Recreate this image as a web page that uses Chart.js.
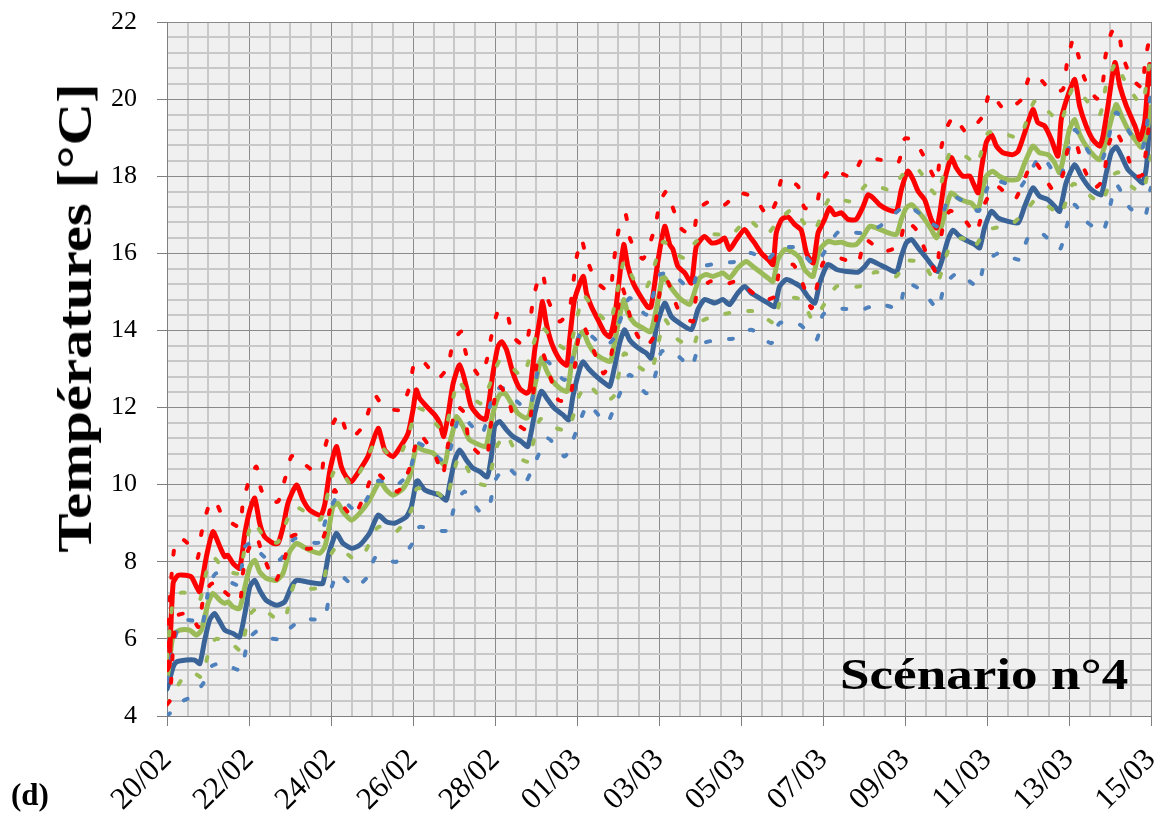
<!DOCTYPE html>
<html><head><meta charset="utf-8">
<script src="https://cdn.jsdelivr.net/npm/chart.js@4.4.1/dist/chart.umd.min.js"></script>
<style>
html,body{margin:0;padding:0;background:#fff;}
#wrap{position:relative;width:1163px;height:814px;overflow:hidden;}
#c{position:absolute;left:0;top:0;}
.lbl{position:absolute;font-family:"Liberation Serif","Times New Roman",serif;font-weight:bold;color:#000;white-space:nowrap;line-height:1;}
#ytitle{left:75px;top:318px;font-size:48px;transform:translate(-50%,-50%) rotate(-90deg) scaleX(1.225);}
#scen{left:840px;top:652px;font-size:45px;transform-origin:0 0;transform:scaleX(1.18);}
#sub{left:11px;top:779px;font-size:31px;}
</style></head><body>
<div id="wrap"><canvas id="c" width="1163" height="814"></canvas>
<div id="ytitle" class="lbl">Températures [°C]</div>
<div id="scen" class="lbl">Scénario n°4</div>
<div id="sub" class="lbl">(d)</div>
</div>
<script>
// x = days since 20/02 00:00, y = temperature (°C)
const dateLabels = ['20/02','22/02','24/02','26/02','28/02','01/03','03/03','05/03','07/03','09/03','11/03','13/03','15/03'];

const redMid = [[0,5.2],[0.05,5.3],[0.15,7.45],[0.27,7.65],[0.45,7.65],[0.6,7.6],[0.72,7.35],[0.8,7.22],[0.96,8.13],[1.12,8.78],[1.29,8.39],[1.41,8.13],[1.48,8.17],[1.61,7.96],[1.77,7.83],[1.9,8.74],[2.02,9.34],[2.14,9.65],[2.26,9.0],[2.38,8.65],[2.59,8.48],[2.71,8.48],[2.83,8.9],[2.95,9.52],[3.16,9.99],[3.32,9.6],[3.48,9.34],[3.75,9.21],[3.85,9.5],[3.97,10.35],[4.13,10.99],[4.25,10.47],[4.37,10.2],[4.5,10.08],[4.7,10.38],[4.9,10.73],[5.15,11.46],[5.31,10.9],[5.51,10.73],[5.72,11.03],[5.88,11.33],[6.0,11.94],[6.08,12.46],[6.16,12.24],[6.33,12.03],[6.53,11.81],[6.65,11.6],[6.75,11.25],[6.85,11.77],[6.98,12.63],[7.14,13.11],[7.3,12.55],[7.42,12.03],[7.63,11.75],[7.78,11.7],[7.95,12.89],[8.07,13.58],[8.16,13.71],[8.28,13.5],[8.44,12.89],[8.6,12.5],[8.77,12.37],[8.85,12.46],[8.97,13.5],[9.09,14.28],[9.16,14.75],[9.25,14.19],[9.38,13.67],[9.58,13.24],[9.75,13.1],[9.82,13.76],[9.94,14.8],[10.15,15.4],[10.23,14.97],[10.35,14.62],[10.51,14.28],[10.68,13.93],[10.8,13.84],[10.92,14.36],[11.04,15.4],[11.14,16.23],[11.24,15.66],[11.37,15.23],[11.53,14.92],[11.73,14.6],[11.8,14.6],[11.85,14.88],[11.98,15.84],[12.14,16.7],[12.26,16.23],[12.34,16.1],[12.46,15.66],[12.63,15.49],[12.79,15.23],[12.91,16.18],[13.11,16.44],[13.28,16.27],[13.48,16.31],[13.6,16.4],[13.72,16.1],[13.89,16.36],[14.09,16.62],[14.21,16.44],[14.33,16.27],[14.5,16.0],[14.66,15.84],[14.78,15.71],[14.86,16.53],[14.99,16.88],[15.15,16.94],[15.31,16.75],[15.47,16.6],[15.6,16.0],[15.76,15.75],[15.88,16.53],[16.04,16.88],[16.16,17.18],[16.29,17.0],[16.45,17.05],[16.61,16.88],[16.81,16.88],[16.98,17.22],[17.1,17.52],[17.22,17.44],[17.38,17.26],[17.59,17.13],[17.79,17.09],[17.91,17.65],[18.07,18.13],[18.2,17.91],[18.32,17.61],[18.48,17.39],[18.64,16.88],[18.77,16.66],[18.85,17.05],[18.97,17.91],[19.13,18.48],[19.25,18.22],[19.41,18.0],[19.58,18.0],[19.66,17.83],[19.78,17.57],[19.86,18.17],[19.98,18.87],[20.11,19.08],[20.23,18.78],[20.39,18.61],[20.63,18.56],[20.76,18.65],[20.92,19.13],[21.12,19.73],[21.24,19.39],[21.41,19.3],[21.57,18.95],[21.73,18.52],[21.81,19.47],[21.97,20.08],[22.14,20.51],[22.26,19.82],[22.42,19.3],[22.58,18.95],[22.75,18.78],[22.83,19.04],[22.95,19.82],[23.12,20.95],[23.24,20.34],[23.4,19.82],[23.61,19.3],[23.73,18.95],[23.85,19.45],[23.93,20.5],[23.97,20.9],[24,20.4]];

const redHigh = [[0,5.8],[0.1,7.5],[0.2,8.5],[0.35,8.6],[0.63,8.35],[0.75,8.1],[0.84,8.74],[1.0,9.39],[1.16,9.6],[1.3,9.3],[1.41,9.13],[1.77,8.91],[1.85,9.52],[2.02,10.17],[2.18,10.47],[2.3,9.86],[2.5,9.6],[2.71,9.56],[2.87,10.12],[3.03,10.73],[3.15,10.75],[3.28,10.6],[3.64,10.3],[3.77,10.3],[3.85,10.95],[4.01,11.5],[4.21,11.85],[4.42,11.25],[4.6,11.3],[4.74,11.46],[4.86,11.72],[5.06,12.33],[5.27,12.03],[5.68,11.94],[5.92,12.55],[6.04,13.19],[6.25,13.19],[6.61,12.76],[6.85,13.06],[6.98,13.71],[7.18,13.97],[7.3,13.37],[7.63,12.81],[7.79,13.19],[7.91,13.84],[8.07,14.49],[8.28,14.49],[8.44,13.84],[8.75,13.6],[8.93,14.8],[9.09,15.45],[9.17,15.45],[9.29,14.8],[9.58,14.23],[9.82,14.58],[9.98,15.84],[10.11,16.36],[10.23,15.88],[10.47,15.27],[10.8,15.01],[10.88,15.62],[10.96,16.27],[11.08,16.92],[11.19,17.0],[11.3,16.36],[11.61,15.86],[11.9,16.66],[12.02,17.31],[12.18,17.61],[12.33,17.2],[12.55,16.63],[12.83,16.49],[12.95,17.13],[13.24,17.35],[13.6,17.26],[13.92,17.57],[14.33,17.44],[14.66,16.96],[14.86,17.35],[15.01,17.96],[15.39,17.74],[15.55,17.18],[15.82,17.2],[15.96,17.83],[16.2,18.19],[16.69,17.98],[16.98,18.48],[17.38,18.43],[17.83,18.35],[17.99,18.97],[18.23,18.93],[18.52,18.39],[18.77,17.87],[18.85,18.52],[18.97,19.14],[19.19,19.54],[19.5,19.14],[19.9,19.56],[20.07,20.17],[20.43,19.73],[20.84,19.99],[21.04,20.6],[21.22,20.61],[21.57,20.21],[21.85,20.25],[21.95,20.93],[22.1,21.55],[22.22,21.16],[22.38,20.53],[22.68,20.01],[22.83,20.47],[22.89,21.12],[23.04,21.74],[23.2,21.81],[23.3,21.16],[23.52,20.55],[23.79,20.3],[23.85,20.95],[23.97,21.6],[24,21.6]];

const redLow = [[0,4.3],[0.07,4.4],[0.15,5.8],[0.25,6.6],[0.43,6.66],[0.6,6.6],[0.76,6.31],[0.88,7.0],[1.05,7.4],[1.24,7.48],[1.41,7.22],[1.77,6.96],[1.85,7.7],[1.98,8.3],[2.18,8.65],[2.3,8.3],[2.63,7.48],[2.83,7.96],[3.03,8.65],[3.15,8.7],[3.36,8.35],[3.7,8.4],[3.85,8.74],[3.97,9.34],[4.09,9.86],[4.25,9.52],[4.54,9.17],[4.82,9.73],[5.06,10.34],[5.35,10.08],[5.63,9.82],[5.9,10.38],[6.16,11.29],[6.53,10.77],[6.73,10.25],[6.8,10.73],[7.06,12.03],[7.26,11.85],[7.38,11.07],[7.79,10.69],[7.87,11.34],[8.07,12.59],[8.32,12.24],[8.48,11.64],[8.8,11.42],[9.05,13.37],[9.17,13.41],[9.54,12.2],[9.82,12.2],[10.07,14.06],[10.19,14.06],[10.64,12.89],[10.8,13.15],[11.1,15.1],[11.35,14.15],[11.65,13.58],[11.85,13.8],[12.06,15.23],[12.2,15.3],[12.5,14.47],[12.83,14.23],[12.91,14.88],[13.24,15.27],[13.6,15.19],[13.89,15.27],[14.54,14.8],[14.82,14.88],[14.94,15.53],[15.27,15.71],[15.51,15.2],[15.72,14.58],[16.0,15.75],[16.37,15.88],[16.85,15.75],[17.02,16.36],[17.46,16.05],[17.85,16.2],[18.01,16.83],[18.27,16.62],[18.52,16.01],[18.77,15.49],[18.83,16.05],[18.93,16.7],[19.1,17.1],[19.41,16.92],[19.73,16.53],[19.95,17.3],[20.23,17.74],[20.67,17.39],[20.9,17.9],[21.15,18.4],[21.61,17.65],[21.85,18.04],[21.97,18.69],[22.15,18.9],[22.34,18.26],[22.62,17.7],[22.83,17.91],[22.95,18.74],[23.12,19.2],[23.4,18.61],[23.61,18.0],[23.79,18.04],[23.95,19.3],[24,19.4]];

const greenMid = [[0,5.0],[0.05,5.3],[0.15,6.1],[0.31,6.23],[0.55,6.23],[0.72,6.1],[0.84,6.23],[1.0,6.92],[1.12,7.18],[1.29,7.0],[1.41,6.92],[1.49,6.96],[1.61,6.83],[1.77,6.79],[1.9,7.35],[2.02,7.87],[2.14,8.04],[2.26,7.74],[2.42,7.57],[2.67,7.52],[2.83,7.7],[2.99,8.26],[3.16,8.48],[3.32,8.39],[3.48,8.3],[3.72,8.22],[3.85,8.39],[3.97,9.0],[4.05,9.43],[4.17,9.52],[4.29,9.3],[4.5,9.08],[4.7,9.26],[4.94,9.6],[5.19,10.08],[5.35,9.86],[5.51,9.73],[5.76,9.9],[5.92,10.21],[6.04,10.82],[6.08,10.99],[6.24,10.9],[6.49,10.82],[6.65,10.64],[6.77,10.51],[6.85,10.9],[6.98,11.42],[7.06,11.77],[7.22,11.51],[7.38,11.16],[7.63,11.03],[7.78,10.99],[7.95,11.85],[8.11,12.33],[8.24,12.37],[8.4,12.11],[8.56,11.85],[8.77,11.72],[8.85,11.85],[8.97,12.55],[9.13,13.28],[9.25,12.98],[9.38,12.72],[9.58,12.5],[9.76,12.42],[9.86,13.07],[10.02,13.76],[10.15,13.97],[10.27,13.67],[10.43,13.41],[10.68,13.24],[10.82,13.2],[10.91,13.67],[11.04,14.36],[11.14,14.8],[11.24,14.45],[11.4,14.19],[11.61,14.06],[11.8,13.97],[11.98,14.8],[12.1,15.4],[12.3,15.1],[12.5,14.84],[12.75,14.67],[12.83,14.88],[12.99,15.36],[13.15,15.45],[13.32,15.4],[13.56,15.49],[13.72,15.36],[13.92,15.62],[14.13,15.79],[14.29,15.66],[14.5,15.49],[14.66,15.36],[14.78,15.27],[14.9,15.84],[15.07,16.1],[15.23,16.05],[15.43,15.88],[15.55,15.58],[15.7,15.42],[15.76,15.4],[15.92,16.1],[16.12,16.31],[16.29,16.27],[16.45,16.29],[16.61,16.23],[16.81,16.23],[16.98,16.44],[17.14,16.7],[17.3,16.66],[17.55,16.55],[17.79,16.49],[17.91,16.88],[18.03,17.18],[18.16,17.26],[18.32,17.09],[18.48,16.88],[18.64,16.62],[18.77,16.4],[18.89,16.7],[19.01,17.22],[19.13,17.57],[19.29,17.44],[19.46,17.35],[19.62,17.3],[19.78,17.13],[19.86,17.48],[19.98,18.0],[20.14,18.13],[20.3,18.0],[20.51,17.91],[20.76,17.93],[20.92,18.35],[21.12,18.78],[21.28,18.61],[21.49,18.56],[21.65,18.35],[21.77,18.09],[21.89,18.61],[22.01,19.21],[22.14,19.47],[22.26,19.08],[22.42,18.78],[22.62,18.52],[22.75,18.43],[22.87,18.78],[22.99,19.3],[23.15,19.86],[23.28,19.56],[23.44,19.21],[23.61,18.95],[23.77,18.74],[23.89,19.13],[24,19.8]];

const greenHigh = [[0,5.5],[0.15,7.0],[0.35,7.2],[0.6,7.15],[0.8,7.0],[1.0,7.91],[1.15,8.1],[1.4,7.8],[1.75,7.7],[1.93,8.52],[2.1,9.04],[2.4,8.6],[2.7,8.5],[3.03,9.34],[3.2,9.4],[3.5,9.2],[3.75,9.1],[4.05,10.3],[4.2,10.4],[4.5,10.0],[4.82,10.56],[5.1,11.12],[5.4,10.8],[5.7,10.8],[6.12,11.98],[6.3,11.9],[6.75,11.4],[7.1,12.7],[7.3,12.4],[7.67,12.11],[8.1,13.2],[8.35,13.1],[8.68,12.81],[9.1,14.1],[9.5,13.67],[9.8,13.5],[10.15,14.9],[10.43,14.54],[10.8,14.2],[11.15,15.8],[11.4,15.3],[11.69,15.1],[12.1,16.3],[12.4,16.0],[12.63,15.88],[12.9,16.3],[13.28,16.49],[13.77,16.49],[14.17,16.88],[14.62,16.49],[14.9,16.83],[15.27,17.15],[15.6,16.7],[15.8,16.6],[16.17,17.44],[16.69,17.35],[17.1,17.81],[17.63,17.65],[17.99,18.09],[18.32,18.17],[18.64,17.65],[18.8,17.5],[19.09,18.59],[19.5,18.5],[19.75,18.3],[20.03,19.13],[20.48,19.08],[20.8,19.0],[21.17,19.95],[21.61,19.56],[21.8,19.4],[22.1,20.3],[22.4,20.0],[22.75,19.6],[22.91,20.38],[23.15,20.95],[23.32,20.56],[23.65,19.99],[23.8,19.9],[23.97,20.95],[24,20.9]];

const greenLow = [[0,4.3],[0.15,4.58],[0.4,5.0],[0.68,5.1],[0.85,5.0],[1.05,5.8],[1.2,6.0],[1.57,5.88],[1.8,5.7],[2.0,6.6],[2.26,6.83],[2.71,6.49],[2.9,6.6],[3.1,7.4],[3.4,7.3],[3.77,7.35],[3.93,8.04],[4.15,8.4],[4.54,8.09],[4.8,8.2],[5.15,8.9],[5.59,8.78],[5.96,9.34],[6.1,9.9],[6.61,9.78],[6.8,9.6],[7.1,10.7],[7.22,10.64],[7.5,10.08],[7.8,10.0],[8.05,11.0],[8.28,11.29],[8.56,10.73],[8.8,10.6],[9.1,11.7],[9.4,11.5],[9.78,11.42],[10.05,12.3],[10.27,12.59],[10.68,12.16],[10.9,12.3],[11.15,13.4],[11.49,13.07],[11.8,12.9],[12.14,14.28],[12.42,13.8],[12.83,13.58],[13.03,14.23],[13.52,14.41],[13.92,14.49],[14.37,14.49],[14.82,14.19],[14.98,14.84],[15.47,14.8],[15.76,14.28],[16.33,15.14],[16.89,15.14],[17.26,15.51],[17.79,15.4],[18.0,15.8],[18.44,15.75],[18.77,15.21],[19.1,16.2],[19.4,16.4],[19.66,16.14],[20.0,16.6],[20.59,16.75],[20.95,17.1],[21.2,17.4],[21.61,17.13],[21.8,17.0],[22.1,17.8],[22.42,17.57],[22.79,17.31],[23.05,18.0],[23.2,18.1],[23.56,17.7],[23.8,17.6],[24,18.52]];

const blueMid = [[0,4.7],[0.03,4.8],[0.15,5.27],[0.23,5.4],[0.47,5.45],[0.68,5.45],[0.8,5.36],[0.92,5.97],[1.04,6.49],[1.16,6.66],[1.29,6.44],[1.41,6.23],[1.61,6.14],[1.77,6.05],[1.9,6.66],[2.02,7.35],[2.14,7.52],[2.26,7.26],[2.42,7.0],[2.67,6.87],[2.87,6.96],[3.03,7.35],[3.16,7.52],[3.4,7.48],[3.64,7.44],[3.8,7.44],[3.93,8.13],[4.0,8.4],[4.13,8.74],[4.29,8.48],[4.5,8.35],[4.7,8.43],[4.94,8.74],[5.15,9.21],[5.35,9.04],[5.55,9.0],[5.84,9.17],[5.96,9.43],[6.08,10.08],[6.12,10.1],[6.29,9.86],[6.49,9.78],[6.65,9.73],[6.81,9.6],[6.9,10.04],[7.02,10.64],[7.14,10.9],[7.3,10.64],[7.46,10.43],[7.63,10.34],[7.81,10.2],[7.91,10.73],[7.99,11.51],[8.11,11.64],[8.28,11.42],[8.44,11.25],[8.64,11.12],[8.8,10.99],[8.97,11.85],[9.13,12.42],[9.29,12.2],[9.45,11.98],[9.66,11.81],[9.8,11.68],[9.9,12.29],[10.06,12.98],[10.15,13.19],[10.27,13.02],[10.47,12.81],[10.68,12.63],[10.8,12.55],[10.92,13.07],[11.04,13.67],[11.16,14.02],[11.28,13.76],[11.45,13.58],[11.6,13.47],[11.69,13.41],[11.81,13.28],[11.94,14.1],[12.14,14.71],[12.3,14.36],[12.5,14.19],[12.79,14.02],[12.95,14.54],[13.11,14.8],[13.36,14.71],[13.56,14.8],[13.72,14.67],[13.92,14.97],[14.09,15.14],[14.25,14.97],[14.45,14.84],[14.66,14.71],[14.82,14.62],[14.94,15.14],[15.11,15.32],[15.31,15.23],[15.47,15.12],[15.63,14.88],[15.8,14.71],[15.92,15.23],[16.12,15.71],[16.33,15.58],[16.57,15.53],[16.85,15.51],[17.02,15.66],[17.14,15.82],[17.3,15.75],[17.55,15.62],[17.79,15.51],[17.91,15.92],[18.03,16.27],[18.16,16.36],[18.32,16.14],[18.52,15.88],[18.68,15.66],[18.8,15.53],[18.93,15.92],[19.05,16.36],[19.17,16.6],[19.33,16.44],[19.54,16.31],[19.7,16.23],[19.82,16.14],[19.94,16.66],[20.11,17.09],[20.27,16.92],[20.51,16.83],[20.76,16.79],[20.92,17.22],[21.12,17.7],[21.28,17.48],[21.49,17.39],[21.65,17.22],[21.77,17.09],[21.93,17.83],[22.14,18.3],[22.3,18.0],[22.5,17.7],[22.66,17.57],[22.79,17.52],[22.91,18.09],[23.03,18.61],[23.15,18.76],[23.28,18.52],[23.44,18.17],[23.65,17.96],[23.8,17.83],[23.89,18.26],[23.97,19.4],[24,19.3]];

const blueHigh = [[0,4.9],[0.15,5.8],[0.3,6.4],[0.51,6.49],[0.7,6.45],[0.85,6.3],[1.04,7.44],[1.2,7.7],[1.5,7.5],[1.75,7.4],[1.9,8.39],[2.1,8.5],[2.3,8.2],[2.59,7.96],[2.8,8.1],[3.1,8.6],[3.31,8.56],[3.7,8.5],[3.9,9.2],[4.17,9.69],[4.58,9.34],[4.8,9.5],[5.15,10.1],[5.59,9.99],[5.9,10.3],[6.12,11.07],[6.4,10.9],[6.8,10.6],[7.1,11.7],[7.22,11.77],[7.67,11.29],[7.99,12.46],[8.2,12.5],[8.6,12.1],[8.85,12.0],[9.1,13.2],[9.29,13.19],[9.7,12.72],[10.1,14.0],[10.3,13.9],[10.68,13.58],[10.9,13.8],[11.28,14.84],[11.69,14.41],[12.02,15.45],[12.34,15.45],[12.79,15.06],[12.99,15.62],[13.48,15.75],[13.89,15.79],[14.25,16.01],[14.6,15.8],[14.94,16.14],[15.39,16.14],[15.8,15.7],[16.37,16.55],[16.94,16.53],[17.38,16.7],[18.03,17.24],[18.4,17.0],[18.8,16.7],[19.1,17.5],[19.5,17.3],[19.8,17.1],[20.1,17.9],[20.5,17.8],[20.8,17.7],[21.32,18.52],[21.77,17.95],[22.14,19.2],[22.5,18.6],[22.8,18.4],[23.15,19.65],[23.5,19.1],[23.8,18.75],[24,20.2]];

const blueLow = [[0,4.0],[0.15,4.15],[0.4,4.4],[0.6,4.49],[0.88,4.84],[1.1,5.3],[1.33,5.36],[1.6,5.25],[1.81,5.19],[1.98,5.97],[2.2,6.2],[2.55,6.01],[2.75,6.0],[2.95,6.23],[3.32,6.53],[3.6,6.5],[3.85,6.57],[3.97,7.18],[4.17,7.7],[4.58,7.35],[4.86,7.57],[5.1,8.13],[5.59,8.0],[5.96,8.43],[6.15,8.9],[6.53,8.82],[6.85,8.82],[7.02,9.47],[7.26,9.82],[7.63,9.3],[7.85,9.4],[8.0,10.1],[8.28,10.47],[8.72,10.04],[8.93,10.47],[9.29,11.2],[9.7,10.73],[9.9,11.16],[10.27,12.07],[10.72,11.59],[10.92,12.03],[11.28,12.85],[11.69,12.37],[11.9,12.81],[12.06,13.45],[12.34,13.45],[12.79,13.06],[12.99,13.63],[13.44,13.76],[13.89,13.8],[14.25,14.02],[14.74,13.67],[14.94,14.19],[15.43,14.15],[15.84,13.76],[16.0,14.41],[16.37,14.56],[16.94,14.54],[17.38,14.69],[17.85,14.58],[18.03,15.23],[18.44,15.01],[18.8,14.56],[18.97,15.19],[19.29,15.49],[19.78,15.14],[19.94,15.75],[20.3,16.01],[20.79,15.84],[21.0,16.4],[21.32,16.53],[21.77,16.1],[21.93,16.66],[22.14,17.26],[22.42,16.83],[22.83,16.57],[23.15,17.78],[23.48,17.18],[23.85,16.96],[23.97,17.61],[24,17.7]];

// ---- styles ----
const RED = '#ff0000', GREEN = '#9bbb59', BLUE = '#3a6497', BLUE_D = '#4f81bd';
const DOT = [4, 19];

function solid(label, pts, color) {
  return { label, data: pts.map(p => ({x: p[0], y: p[1]})), borderColor: color, borderWidth: 5,
    borderJoinStyle: 'round', borderCapStyle: 'round', pointRadius: 0, tension: 0.2, fill: false };
}
function dotted(label, pts, color) {
  return { label, data: pts.map(p => ({x: p[0], y: p[1]})), borderColor: color, borderWidth: 4,
    borderDash: DOT, borderCapStyle: 'round', borderJoinStyle: 'round', pointRadius: 0, tension: 0.2, fill: false };
}

const xTickValues = []; for (let k = 0; k <= 48; k++) xTickValues.push(k / 2);
const yTickValues = []; for (let k = 0; k <= 45; k++) yTickValues.push(Math.round((4 + k * 0.4) * 10) / 10);
const isMajor = v => Math.abs(v / 2 - Math.round(v / 2)) < 1e-6;

const bgPlugin = { id: 'bg', beforeDraw(chart) {
  const {ctx, chartArea: a} = chart; ctx.save(); ctx.fillStyle = '#f0f0f0';
  ctx.fillRect(a.left, a.top, a.right - a.left, a.bottom - a.top); ctx.restore(); } };

const gridOpts = {
  color: c => (c.tick && isMajor(c.tick.value)) ? '#8a8a8a' : '#c8c8c8',
  lineWidth: c => (c.tick && isMajor(c.tick.value)) ? 1 : 2,
  tickColor: c => (c.tick && isMajor(c.tick.value)) ? '#7f7f7f' : 'rgba(0,0,0,0)',
  tickWidth: 1, tickLength: 10, drawTicks: true
};
const serif = '"Liberation Serif", "Times New Roman", serif';
function noPad(s) { s.paddingLeft = 0; s.paddingRight = 0; s.paddingTop = 0; s.paddingBottom = 0; }

new Chart(document.getElementById('c'), {
  type: 'line',
  data: { datasets: [
    dotted('Rouge haut', redHigh, RED),
    dotted('Rouge bas', redLow, RED),
    dotted('Vert haut', greenHigh, GREEN),
    dotted('Vert bas', greenLow, GREEN),
    dotted('Bleu haut', blueHigh, BLUE_D),
    dotted('Bleu bas', blueLow, BLUE_D),
    solid('Rouge', redMid, RED),
    solid('Vert', greenMid, GREEN),
    solid('Bleu', blueMid, BLUE)
  ]},
  options: {
    responsive: false, animation: false, devicePixelRatio: 1,
    layout: { padding: { top: 22, right: 12, left: 0, bottom: 0 } },
    plugins: { legend: { display: false }, title: { display: false }, tooltip: { enabled: false } },
    scales: {
      x: {
        type: 'linear', min: 0, max: 24,
        afterBuildTicks: s => { s.ticks = xTickValues.map(v => ({value: v})); },
        afterFit: s => { s.height = 98; noPad(s); },
        ticks: { autoSkip: false, maxRotation: 45, minRotation: 45, padding: 16, color: '#000',
          font: { family: serif, size: 31 },
          callback: v => isMajor(v) ? dateLabels[Math.round(v / 2)] : '' },
        grid: gridOpts,
        border: { display: true, color: '#7f7f7f', width: 1 }
      },
      y: {
        type: 'linear', min: 4, max: 22,
        afterBuildTicks: s => { s.ticks = yTickValues.map(v => ({value: v})); },
        afterFit: s => { s.width = 167; noPad(s); },
        ticks: { autoSkip: false, padding: 20, color: '#000', font: { family: serif, size: 26 },
          callback: v => isMajor(v) ? String(Math.round(v)) : '' },
        grid: gridOpts,
        border: { display: true, color: '#7f7f7f', width: 1 }
      }
    }
  },
  plugins: [bgPlugin]
});
</script>
</body></html>
